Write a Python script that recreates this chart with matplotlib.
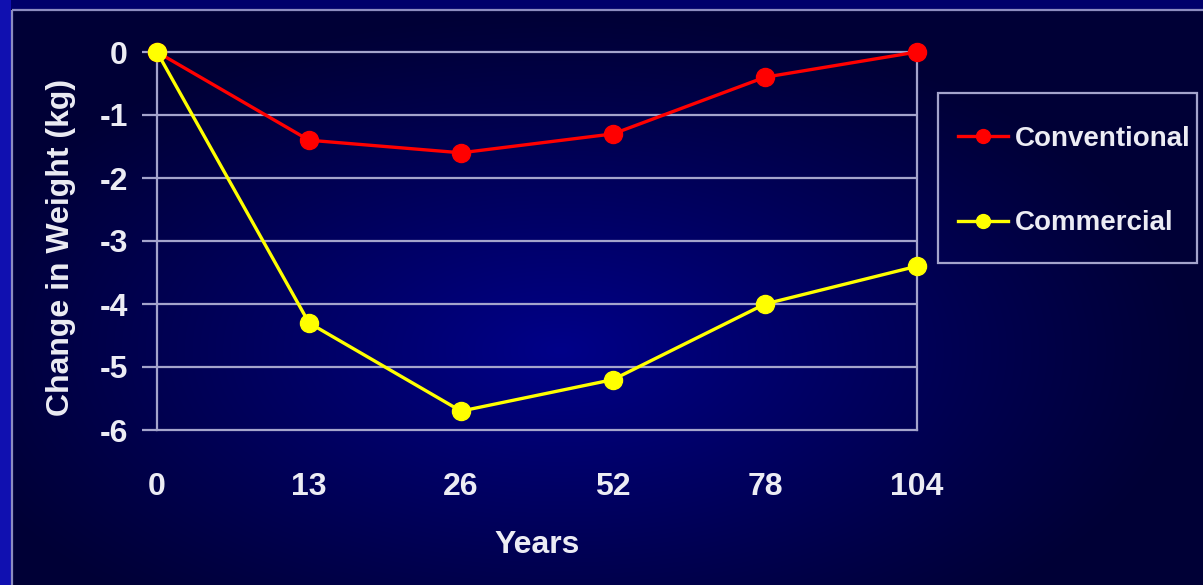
import numpy as np
import matplotlib.pyplot as plt
from matplotlib.patches import Rectangle

# weight change per follow-up visit
visits = ["0", "13", "26", "52", "78", "104"]
conventional = [0.0, -1.4, -1.6, -1.3, -0.4, 0.0]
commercial = [0.0, -4.3, -5.7, -5.2, -4.0, -3.4]
y_ticks = [0, -1, -2, -3, -4, -5, -6]

W, H = 1203, 585
grid_col = "#a4a4cc"
text_col = "#ececf4"
fs = 23

plt.rcParams["font.family"] = ["Liberation Sans", "DejaVu Sans"]
plt.rcParams["font.weight"] = "bold"
plt.rcParams["axes.labelweight"] = "bold"

fig = plt.figure(figsize=(W / 100, H / 100), dpi=100)

# slide background: navy with a lighter glow towards the centre
bg = fig.add_axes([0, 0, 1, 1], zorder=-10)
yy, xx = np.mgrid[0:H, 0:W]
d = np.sqrt(((xx - 560) / 640.0) ** 2 + ((yy - 350) / 340.0) ** 2)
t = np.clip(1 - d, 0, 1) ** 1.1
dark = np.array([0x00, 0x00, 0x36]) / 255
light = np.array([0x00, 0x00, 0x88]) / 255
img = dark[None, None, :] + t[..., None] * (light - dark)[None, None, :]
img[:, :11] = np.array([0x10, 0x10, 0xb0]) / 255
img[:9, 11:] = np.array([0x00, 0x00, 0x6a]) / 255
bg.imshow(img, extent=[0, W, H, 0], aspect="auto", interpolation="bilinear")
bg.add_patch(Rectangle((12, 10), W + 20, H + 20, fill=False, ec="#8c8cc0", lw=1.6))
# legend box
bg.add_patch(Rectangle((938, 93), 259, 170, fill=False, ec=grid_col, lw=1.6))
bg.set_xlim(0, W)
bg.set_ylim(H, 0)
bg.axis("off")

ax = fig.add_axes([157 / W, 1 - 430 / H, (917 - 157) / W, (430 - 52) / H])
ax.set_facecolor("none")

x = np.arange(len(visits))
for i in y_ticks[1:-1]:
    ax.axhline(i, color=grid_col, lw=1.6, zorder=1)

ax.plot(x, conventional, color="#ff0000", lw=2.4, marker="o", ms=13,
        mfc="#ff0000", mec="#ff0000", label="Conventional", zorder=3, clip_on=False)
ax.plot(x, commercial, color="#ffff00", lw=2.4, marker="o", ms=13,
        mfc="#ffff00", mec="#ffff00", label="Commercial", zorder=4, clip_on=False)

ax.set_xlim(0, len(visits) - 1)
ax.set_ylim(-6, 0)
for s in ax.spines.values():
    s.set_color(grid_col)
    s.set_linewidth(1.6)

ax.set_yticks(y_ticks)
ax.set_yticklabels([str(v) for v in y_ticks])
ax.tick_params(axis="y", direction="out", length=11, width=1.6, color=grid_col,
               labelcolor=text_col, labelsize=fs, pad=10)

ax.set_xticks(x)
ax.set_xticklabels(visits)
ax.tick_params(axis="x", which="major", bottom=False, top=False, labelcolor=text_col,
               labelsize=fs, pad=27)
ax.set_xticks(x[::2], minor=True)
ax.tick_params(axis="x", which="minor", bottom=False, top=True, direction="in",
               length=6, width=1.6, color=grid_col)

ax.set_xlabel("Years", color=text_col, fontsize=fs, labelpad=20)
ax.set_ylabel("Change in Weight (kg)", color=text_col, fontsize=fs)
ax.yaxis.set_label_coords(-0.107, 0.484)

leg = fig.legend(loc="upper left", bbox_to_anchor=(958 / W, 1 - 126 / H),
                 frameon=False, fontsize=20, labelcolor=text_col,
                 handlelength=1.8, handletextpad=0.25, borderpad=0,
                 labelspacing=2.1, borderaxespad=0)
for h in leg.legend_handles:
    h.set_markersize(10)

fig.savefig("out.png", dpi=100)
